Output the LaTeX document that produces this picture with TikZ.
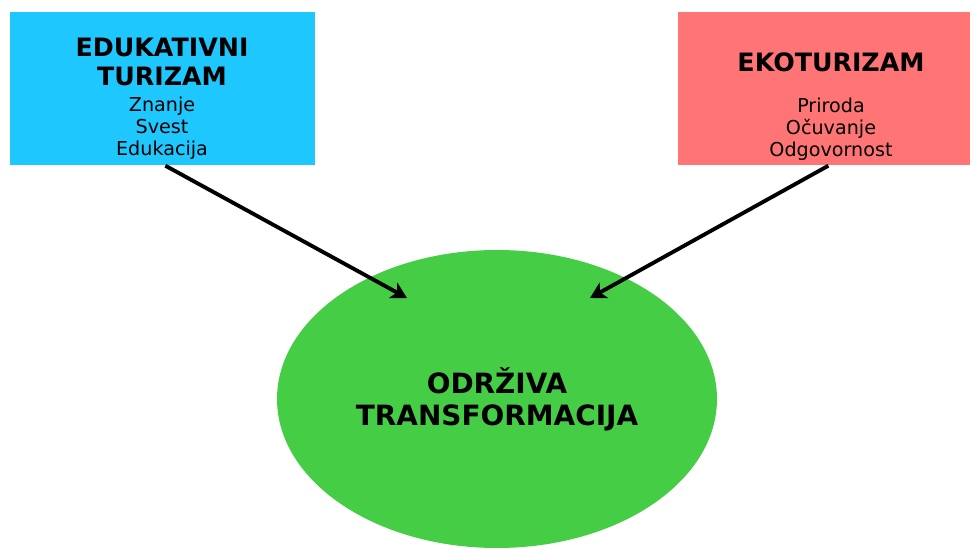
\documentclass[tikz,border=0pt]{standalone}
\usepackage{fontspec}
\setmainfont{DejaVu Sans}
\usetikzlibrary{shapes.geometric,arrows.meta}

\definecolor{edublue}{HTML}{1EC8FF}
\definecolor{ekored}{HTML}{FF7474}
\definecolor{odrgreen}{HTML}{46CD46}

\tikzstyle{box} = [rectangle, inner sep=0pt, anchor=north west]
\tikzstyle{title} = [font=\fontsize{14.4}{16.5}\selectfont\bfseries, align=center, inner sep=0pt]
\tikzstyle{keywords} = [font=\fontsize{10.9}{12.5}\selectfont, align=center, inner sep=0pt]
\tikzstyle{arrow} = [line width=2.2pt, ->, >= {Stealth[length=9pt,width=10pt,inset=2.5pt]}, black]

\begin{document}
\begin{tikzpicture}[x=0.02cm,y=-0.02cm]
			\useasboundingbox (0,0) rectangle (970,550);
			% boxes
			\node[box, fill=edublue, minimum width=305*0.02cm, minimum height=153*0.02cm] (edu) at (10,12) {};
			\node[box, fill=ekored, minimum width=292*0.02cm, minimum height=153*0.02cm] (eko) at (678,12) {};
			\node[title] (eduTitle) at (162,62) {EDUKATIVNI\\TURIZAM};
			\node[keywords] (eduText) at (162,128) {Znanje\\Svest\\Edukacija};
			\node[title] (ekoTitle) at (831,62) {EKOTURIZAM};
			\node[keywords] (ekoText) at (831,129) {Priroda\\Očuvanje\\Odgovornost};
			% center
			\node[ellipse, fill=odrgreen, minimum width=440*0.02cm, minimum height=298*0.02cm, inner sep=0pt,
				font=\fontsize{15.9}{18.2}\selectfont\bfseries, align=center] (odr) at (497,399) {ODRŽIVA\\TRANSFORMACIJA};
			\coordinate (odrL) at (407,298);
			\coordinate (odrR) at (590,298);
			\draw[arrow] ([xshift=2.5*0.02cm]edu.south) -- (odrL);
			\draw[arrow] ([xshift=4*0.02cm]eko.south) -- (odrR);
			\end{tikzpicture}
\end{document}
